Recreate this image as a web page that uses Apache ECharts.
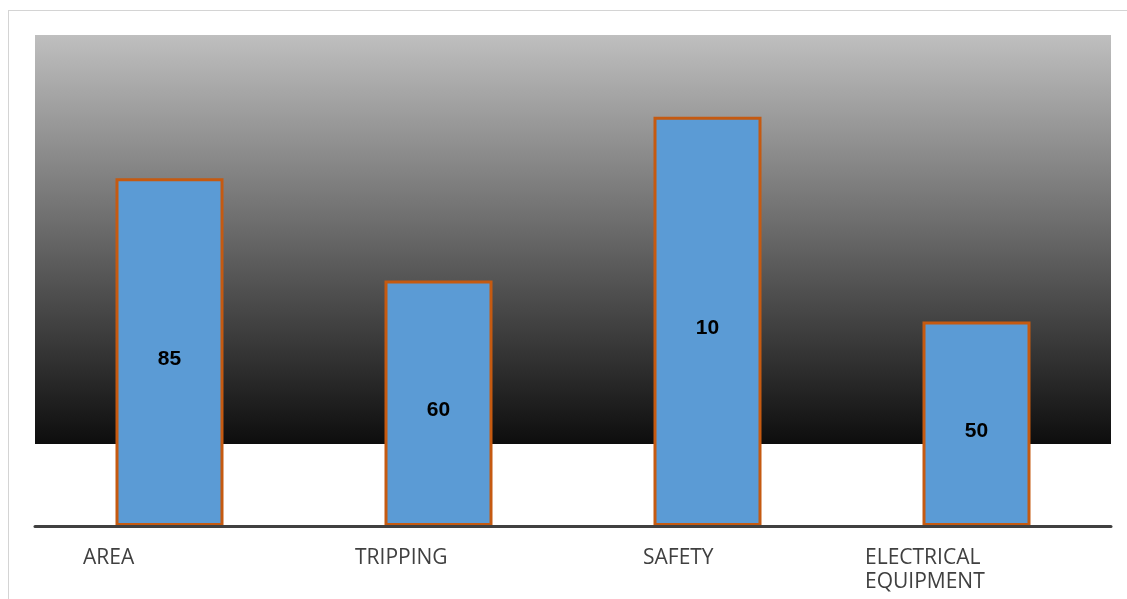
<!DOCTYPE html>
<html>
<head>
<meta charset="utf-8">
<script src="https://cdn.jsdelivr.net/npm/echarts@6/dist/echarts.min.js"></script>
<style>
  html, body { margin: 0; padding: 0; background: #fff; overflow: hidden; }
  #wrap { position: relative; width: 1127px; height: 599px; }
  #chart { position: absolute; left: 0; top: 0; width: 1127px; height: 599px; }
  #frame { position: absolute; left: 8px; top: 10px; width: 1200px; height: 700px; border: 1px solid #d4d4d4; pointer-events: none; }
</style>
</head>
<body>
<div id="wrap">
  <div id="frame"></div>
  <div id="chart"></div>
</div>
<script>
// Data
const categories = ['AREA', 'TRIPPING', 'SAFETY', 'ELECTRICAL\nEQUIPMENT'];
const values = [85, 60, 100, 50];
const valueLabels = ['85', '60', '10', '50'];

const chart = echarts.init(document.getElementById('chart'), null, { renderer: 'canvas' });

const richBase = { fontFamily: 'Open Sans', fontSize: 21, color: '#404040', lineHeight: 24, align: 'left' };
const widths = [173, 167, 129, 223];
const rich = {};
widths.forEach((w, i) => { rich['c' + i] = Object.assign({}, richBase, { width: w }); });

const option = {
  animation: false,
  grid: {
    left: 35, right: 16, top: 35, bottom: 73,
    show: true,
    borderWidth: 0,
    backgroundColor: {
      type: 'linear', x: 0, y: 0, x2: 0, y2: 1,
      colorStops: [
        { offset: 0, color: '#bfbfbf' },
        { offset: 0.833, color: '#0d0d0d' },
        { offset: 0.833, color: '#ffffff' },
        { offset: 1, color: '#ffffff' }
      ]
    }
  },
  xAxis: {
    type: 'category',
    data: categories,
    z: 5,
    axisLine: { show: true, lineStyle: { color: '#404040', width: 3 } },
    axisTick: { show: false },
    axisLabel: {
      interval: 0,
      margin: 20,
      formatter: function (val, idx) {
        return val.split('\n').map(s => '{c' + idx + '|' + s + '}').join('\n');
      },
      rich: rich
    }
  },
  yAxis: {
    type: 'value',
    min: 0,
    max: 120,
    show: false,
    splitLine: { show: false }
  },
  series: [{
    type: 'bar',
    data: values,
    barWidth: 108,
    itemStyle: { color: '#5b9bd5', borderColor: '#c55a11', borderWidth: 3 },
    label: {
      show: true,
      position: 'inside',
      offset: [0, 7],
      formatter: p => valueLabels[p.dataIndex],
      fontFamily: 'Liberation Sans',
      fontWeight: 'bold',
      fontSize: 21,
      color: '#000'
    }
  }]
};
chart.setOption(option);
</script>
</body>
</html>
